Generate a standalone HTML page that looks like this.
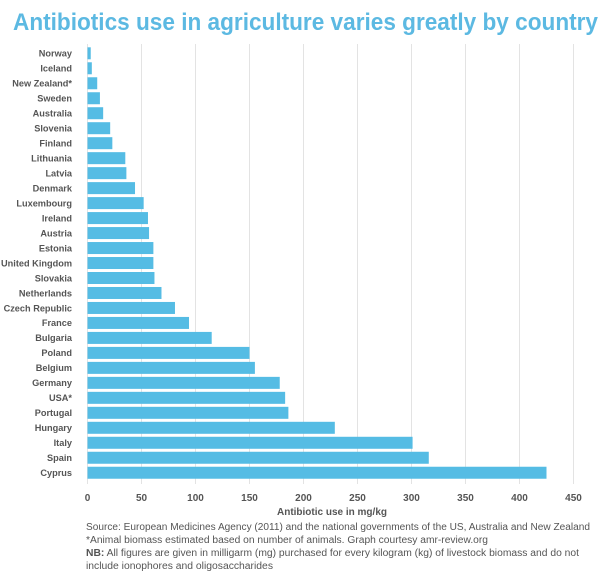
<!DOCTYPE html>
<html><head><meta charset="utf-8"><style>
html,body{margin:0;padding:0;background:#fff;}
svg{display:block;font-family:"Liberation Sans",sans-serif;}
</style></head><body>
<svg id="chart" width="600" height="576" viewBox="0 0 600 576">
<text x="13" y="30" font-size="24" font-weight="bold" fill="#5cb9e2" textLength="585" lengthAdjust="spacingAndGlyphs">Antibiotics use in agriculture varies greatly by country</text>
<g id="grid"></g><g id="bars"></g><g id="labels"></g><g id="ticks"></g>
<text x="332" y="515" font-size="10" font-weight="bold" fill="#555" text-anchor="middle">Antibiotic use in mg/kg</text>
<g font-size="10" fill="#555">
<text x="86" y="530" textLength="504" lengthAdjust="spacingAndGlyphs">Source: European Medicines Agency (2011) and the national governments of the US, Australia and New Zealand</text>
<text x="86" y="543" textLength="402" lengthAdjust="spacingAndGlyphs">*Animal biomass estimated based on number of animals. Graph courtesy amr-review.org</text>
<text x="86" y="556" textLength="493" lengthAdjust="spacingAndGlyphs"><tspan font-weight="bold">NB:</tspan> All figures are given in milligarm (mg) purchased for every kilogram (kg) of livestock biomass and do not</text>
<text x="86" y="569" textLength="187" lengthAdjust="spacingAndGlyphs">include ionophores and oligosaccharides</text>
</g>
</svg>
<script>
const countries = ["Norway","Iceland","New Zealand*","Sweden","Australia","Slovenia","Finland","Lithuania","Latvia","Denmark","Luxembourg","Ireland","Austria","Estonia","United Kingdom","Slovakia","Netherlands","Czech Republic","France","Bulgaria","Poland","Belgium","Germany","USA*","Portugal","Hungary","Italy","Spain","Cyprus"];
const values = [3,4,9,11.5,14.5,21,23,35,36,44,52,56,57,61,61,62,68.5,81,94,115,150,155,178,183,186,229,301,316,425];
const ticks = [0,50,100,150,200,250,300,350,400,450];
const NS = "http://www.w3.org/2000/svg";
const x0 = 87.5, k = 1.08;
function xs(v){ return x0 + v * k; }
function yc(i){ return 53.3 + i * 14.98; }
const grid = document.getElementById('grid'), bars = document.getElementById('bars'), labels = document.getElementById('labels'), tk = document.getElementById('ticks');
ticks.forEach(t => {
  const l = document.createElementNS(NS,'line');
  l.setAttribute('x1', xs(t)); l.setAttribute('x2', xs(t));
  l.setAttribute('y1', 44); l.setAttribute('y2', 484);
  l.setAttribute('stroke', '#e3e3e3'); l.setAttribute('stroke-width', 1);
  
  
  grid.appendChild(l);
  const tx = document.createElementNS(NS,'text');
  tx.setAttribute('x', xs(t)); tx.setAttribute('y', 501);
  tx.setAttribute('font-size', 10); tx.setAttribute('font-weight', 'bold');
  tx.setAttribute('fill', '#555'); tx.setAttribute('text-anchor', 'middle');
  tx.textContent = t;
  
  
  tk.appendChild(tx);
});
countries.forEach((c, i) => {
  const r = document.createElementNS(NS,'rect');
  r.setAttribute('x', xs(0)); r.setAttribute('y', yc(i) - 6);
  r.setAttribute('width', Math.max(0, xs(values[i]) - xs(0)));
  r.setAttribute('height', 12); r.setAttribute('fill', '#55bce4');
  
  
  bars.appendChild(r);
  const tx = document.createElementNS(NS,'text');
  tx.setAttribute('x', 72); tx.setAttribute('y', yc(i) + 3.3);
  tx.setAttribute('font-size', 9.2); tx.setAttribute('font-weight', 'bold');
  tx.setAttribute('fill', '#555'); tx.setAttribute('text-anchor', 'end');
  tx.textContent = c;
  
  
  labels.appendChild(tx);
});
</script>
</body></html>
